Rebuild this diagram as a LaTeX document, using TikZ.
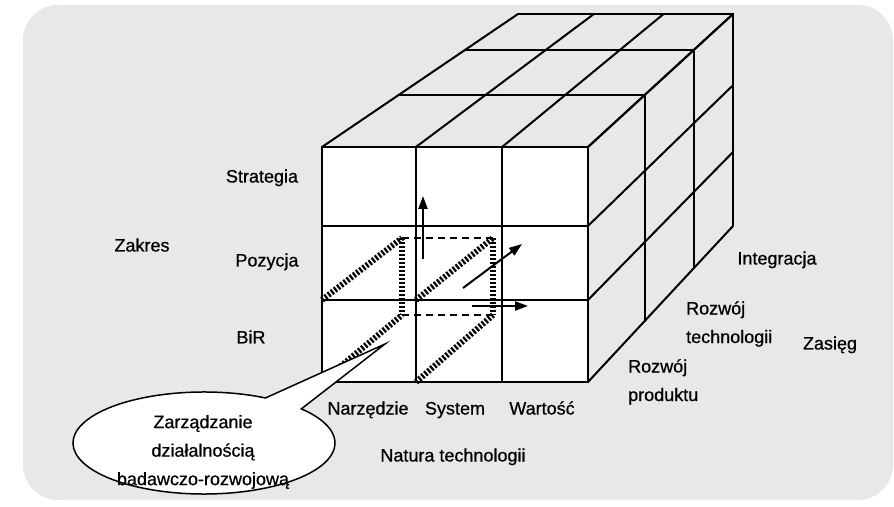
\documentclass[tikz,border=0pt]{standalone}
\usepackage{fontspec}
\setmainfont[FakeBold=0.6]{Liberation Sans}
\usetikzlibrary{arrows.meta,calc}
\newcommand\cpt[3]{({(1-#3)*(322+266*#1)+#3*(518+215*#1)},{(1-#3)*(147+235*#2)+#3*(14+212*#2)})}
\begin{document}
\begin{tikzpicture}[x=1bp,y=-1bp,
  grid/.style={line width=2bp, line cap=round},
  hatch/.style={line width=6bp, dash pattern=on 2.2bp off 1.8bp},
  dline/.style={line width=1.8bp, dash pattern=on 7bp off 5bp},
  arr/.style={line width=2bp, -{Triangle[length=13bp,width=9bp]}},
  lbl/.style={font=\fontsize{18bp}{28.5bp}\selectfont, inner sep=0pt}]
\useasboundingbox (0,0) rectangle (894,507);
\fill[black!9, rounded corners=35bp] (23,5) rectangle (893,500);
% cube
\fill[white] \cpt{0}{0}{0} rectangle \cpt{1}{1}{0};
\foreach \t in {0,0.39,0.73,1} \draw[grid] \cpt{0}{0}{\t} -- \cpt{1}{0}{\t};
\foreach \u in {0,0.353,0.677,1} \draw[grid] \cpt{\u}{0}{0} -- \cpt{\u}{0}{1};
\foreach \t in {0,0.39,0.73,1} \draw[grid] \cpt{1}{0}{\t} -- \cpt{1}{1}{\t};
\foreach \v in {0,0.336,0.651,1} \draw[grid] \cpt{1}{\v}{0} -- \cpt{1}{\v}{1};
\foreach \u in {0,0.353,0.677,1} \draw[grid] \cpt{\u}{0}{0} -- \cpt{\u}{1}{0};
\foreach \v in {0,0.336,0.651,1} \draw[grid] \cpt{0}{\v}{0} -- \cpt{1}{\v}{0};
% inner box
\coordinate (ia) at (322,300); \coordinate (ib) at (416,300);
\coordinate (ic) at (322,382); \coordinate (id) at (416,382);
\coordinate (ja) at (402,238); \coordinate (jb) at (493,238);
\coordinate (jc) at (402,315); \coordinate (jd) at (493,315);
\draw[dline] (ja) -- (jb);
\draw[dline] (jc) -- (jd);
\draw[hatch] (ia) -- (ja);
\draw[hatch] (ib) -- (jb);
\draw[hatch] (ic) -- (jc);
\draw[hatch] (id) -- (jd);
\draw[hatch] (ja) -- (jc);
\draw[hatch] (jb) -- (jd);
% arrows
\coordinate (a1s) at (423,259); \coordinate (a1e) at (423,196);
\coordinate (a2s) at (463,288); \coordinate (a2e) at (522,244);
\coordinate (a3s) at (472,306); \coordinate (a3e) at (528,306);
\draw[arr] (a1s) -- (a1e);
\draw[arr] (a2s) -- (a2e);
\draw[arr] (a3s) -- (a3e);
% callout
\coordinate (cc) at (204,443);
\coordinate (tip) at (385,344);
\draw[line width=1.5bp, fill=white, line join=miter] (tip) -- ($(cc)+(-62:131 and 51)$)
  arc[start angle=-62, end angle=-402, x radius=131, y radius=51] -- cycle;
\node[lbl, align=center] (call) at (203,452) {Zarządzanie\\działalnością\\badawczo-rozwojową};
% labels
\node[lbl, anchor=base] (strat) at (262,182.5) {Strategia};
\node[lbl, anchor=base] (poz) at (267,266.5) {Pozycja};
\node[lbl, anchor=base] (bir) at (251,343.5) {BiR};
\node[lbl, anchor=base] (zak) at (142,251.5) {Zakres};
\node[lbl, anchor=base] (narz) at (368,414.5) {Narzędzie};
\node[lbl, anchor=base] (sys) at (455,414.5) {System};
\node[lbl, anchor=base] (war) at (542,414.5) {Wartość};
\node[lbl, anchor=base] (nat) at (453,461.5) {Natura technologii};
\node[lbl, anchor=base] (integ) at (777,264.5) {Integracja};
\node[lbl, align=left, anchor=west] (rt) at (686,324) {Rozwój\\technologii};
\node[lbl, anchor=base] (zas) at (830,349.5) {Zasięg};
\node[lbl, align=left, anchor=west] (rp) at (628,382) {Rozwój\\produktu};
\end{tikzpicture}
\end{document}
